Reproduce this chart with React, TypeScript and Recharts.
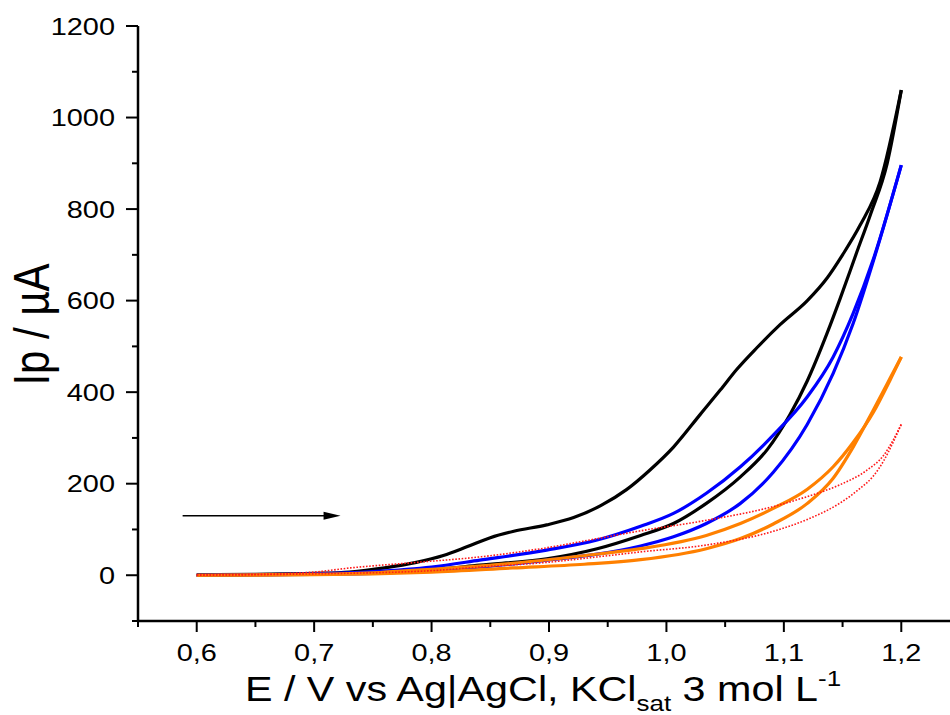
import { Line, LineChart, ReferenceLine, XAxis, YAxis } from 'recharts';

type Pt = [number, number];

// potential (V) / current (µA) pairs, each branch
const blackForward: Pt[] = [
  [0.6, 1], [0.65, 2], [0.7, 4], [0.73, 7], [0.76, 16], [0.787, 28], [0.81, 43],
  [0.83, 62], [0.85, 82], [0.87, 96], [0.898, 110], [0.921, 126], [0.944, 152],
  [0.966, 187], [0.986, 230], [1.006, 280], [1.029, 352], [1.046, 405], [1.06, 450],
  [1.077, 497], [1.097, 548], [1.12, 600], [1.137, 650], [1.15, 700], [1.165, 765],
  [1.182, 860], [1.2, 1060],
];
const blackReverse: Pt[] = [
  [0.6, 0], [0.65, 1], [0.7, 3], [0.75, 6], [0.8, 12], [0.841, 22], [0.898, 36],
  [0.941, 58], [0.978, 87], [1.006, 113], [1.034, 157], [1.063, 215], [1.086, 275],
  [1.105, 350], [1.12, 425], [1.137, 530], [1.148, 605], [1.162, 705], [1.174, 790],
  [1.188, 900], [1.2, 1060],
];
const blueForward: Pt[] = [
  [0.6, 0], [0.65, 1], [0.7, 3], [0.75, 8], [0.8, 18], [0.841, 33], [0.898, 55],
  [0.941, 77], [0.978, 107], [1.006, 135], [1.034, 179], [1.063, 237], [1.091, 306],
  [1.12, 390], [1.142, 477], [1.159, 572], [1.176, 689], [1.2, 896],
];
const blueReverse: Pt[] = [
  [0.6, 0], [0.65, 1], [0.7, 2], [0.75, 4], [0.8, 10], [0.85, 20], [0.898, 33],
  [0.941, 46], [0.978, 64], [1.006, 84], [1.034, 113], [1.063, 157], [1.091, 225],
  [1.12, 330], [1.142, 441], [1.159, 550], [1.179, 710], [1.2, 896],
];
const orangeForward: Pt[] = [
  [0.6, 0], [0.65, 1], [0.7, 2], [0.756, 6], [0.8, 13], [0.869, 26], [0.927, 42],
  [0.978, 58], [1.034, 87], [1.063, 113], [1.091, 146], [1.12, 188], [1.142, 237],
  [1.159, 290], [1.176, 355], [1.19, 424], [1.2, 477],
];
const orangeReverse: Pt[] = [
  [0.6, 0], [0.65, 0], [0.7, 1], [0.75, 3], [0.8, 7], [0.869, 16], [0.93, 24],
  [0.978, 34], [1.034, 58], [1.063, 80], [1.091, 112], [1.12, 157], [1.142, 212],
  [1.159, 280], [1.176, 360], [1.19, 428], [1.2, 477],
];
const redForward: Pt[] = [
  [0.6, 1], [0.65, 2], [0.7, 7], [0.731, 16], [0.787, 28], [0.841, 40], [0.898, 60],
  [0.941, 80], [0.978, 97], [1.034, 120], [1.091, 150], [1.12, 172], [1.148, 198],
  [1.171, 230], [1.185, 262], [1.193, 295], [1.2, 330],
];
const redReverse: Pt[] = [
  [0.6, 0], [0.7, 3], [0.8, 10], [0.841, 18], [0.898, 28], [0.941, 40], [0.978, 51],
  [1.034, 66], [1.091, 96], [1.12, 122], [1.148, 158], [1.165, 190], [1.176, 216],
  [1.185, 250], [1.193, 290], [1.2, 330],
];

const xTicks = [
  0.55, 0.6, 0.65, 0.7, 0.75, 0.8, 0.85, 0.9, 0.95, 1.0, 1.05, 1.1, 1.15, 1.2, 1.25,
];
const yTicks = [-100, 0, 100, 200, 300, 400, 500, 600, 700, 800, 900, 1000, 1100, 1200];
const topTicks = [1, 2, 3, 4, 5, 6, 7, 8, 9];
const rightTicks = [1, 2, 3, 4];

// scan direction arrow, drawn in data units
const arrowStart: Pt = [0.588, 130];
const arrowEnd: Pt = [0.7225, 130];

const FONT = '"Liberation Sans", Arial, sans-serif';
const STRETCH = 1.18; // the source figure is stretched sideways
const TICK_FONT = 24.5;
const X_TICK_SIZE = 11;
const X_TICK_MARGIN = 12;
const Y_TICK_SIZE = 12;
const Y_TICK_MARGIN = 11;
const AXIS_W = 2.5;

const SERIES = [
  { name: 'black-fwd', points: blackForward, color: '#000000', width: 3.2, dash: undefined },
  { name: 'black-rev', points: blackReverse, color: '#000000', width: 3.2, dash: undefined },
  { name: 'blue-fwd', points: blueForward, color: '#0000ff', width: 3.2, dash: undefined },
  { name: 'blue-rev', points: blueReverse, color: '#0000ff', width: 3.2, dash: undefined },
  { name: 'orange-fwd', points: orangeForward, color: '#ff8000', width: 3.2, dash: undefined },
  { name: 'orange-rev', points: orangeReverse, color: '#ff8000', width: 3.2, dash: undefined },
  { name: 'red-fwd', points: redForward, color: '#ff1a1a', width: 1.6, dash: '1.6 1.6' },
  { name: 'red-rev', points: redReverse, color: '#ff1a1a', width: 1.6, dash: '1.6 1.6' },
];

const toRows = (pts: Pt[]) => pts.map(([v, i]) => ({ v, i }));

const fmtX = (v: number) => v.toFixed(1).replace('.', ',');

const XTick = (props: any) => {
  const { x, y, payload } = props;
  const axisY = y - X_TICK_SIZE - X_TICK_MARGIN;
  const major = Math.round(payload.value * 100) % 10 === 0;
  return (
    <g>
      <line x1={x} x2={x} y1={axisY} y2={axisY + (major ? 11 : 6)} stroke="#000" strokeWidth={2} />
      {major && (
        <text
          transform={`translate(${x},${y}) scale(${STRETCH},1)`}
          textAnchor="middle"
          dy="0.71em"
          fontSize={TICK_FONT}
          fontFamily={FONT}
          fill="#000"
        >
          {fmtX(payload.value)}
        </text>
      )}
    </g>
  );
};

const YTick = (props: any) => {
  const { x, y, payload } = props;
  const axisX = x + Y_TICK_SIZE + Y_TICK_MARGIN;
  const major = payload.value % 200 === 0;
  return (
    <g>
      <line x1={axisX - (major ? 12 : 6)} x2={axisX} y1={y} y2={y} stroke="#000" strokeWidth={2} />
      {major && (
        <text
          transform={`translate(${x},${y}) scale(${STRETCH},1)`}
          textAnchor="end"
          dy="0.355em"
          fontSize={TICK_FONT}
          fontFamily={FONT}
          fill="#000"
        >
          {payload.value}
        </text>
      )}
    </g>
  );
};

// inward ticks of the frame's top and right edges, no labels
const TopTick = (props: any) => {
  const { x, y, payload } = props;
  const major = payload.value % 2 === 0;
  return <line x1={x} x2={x} y1={y} y2={y + (major ? 11 : 6)} stroke="#000" strokeWidth={2} />;
};

const RightTick = (props: any) => {
  const { x, y } = props;
  return <line x1={x - 12} x2={x} y1={y} y2={y} stroke="#000" strokeWidth={2} />;
};

const Arrow = (props: any) => {
  const { x1, y1, x2, y2 } = props;
  return (
    <g>
      <line x1={x1} y1={y1} x2={x2 - 12} y2={y2} stroke="#000" strokeWidth={1.4} />
      <polygon points={`${x2},${y2} ${x2 - 17},${y2 - 4} ${x2 - 17},${y2 + 4}`} fill="#000" />
    </g>
  );
};

const XLabel = (props: any) => {
  const vb = props.viewBox || { x: 138, y: 621, width: 822, height: 94 };
  const cx = vb.x + vb.width / 2 - 6;
  const by = vb.y + 80;
  return (
    <text
      transform={`translate(${cx},${by}) scale(${STRETCH},1)`}
      textAnchor="middle"
      fontSize={35}
      fontFamily={FONT}
      fill="#000"
    >
      E / V vs Ag|AgCl, KCl
      <tspan fontSize={22} dy={10}>sat</tspan>
      <tspan dy={-10}> 3 mol L</tspan>
      <tspan fontSize={22} dy={-15}>-1</tspan>
    </text>
  );
};

const YLabel = (props: any) => {
  const vb = props.viewBox || { x: 0, y: 26, width: 138, height: 595 };
  const cy = vb.y + vb.height / 2 + 1;
  return (
    <text
      transform={`translate(31,${cy}) rotate(-90) scale(1,${STRETCH})`}
      textAnchor="middle"
      dy="0.36em"
      fontSize={42}
      fontFamily={FONT}
      fill="#000"
    >
      Ip / µA
    </text>
  );
};

export default function App() {
  return (
    <div
      style={{
        position: 'fixed',
        left: 0,
        top: 0,
        width: 950,
        height: 715,
        overflow: 'hidden',
        background: '#fff',
        fontFamily: FONT,
      }}
    >
      <LineChart width={1000} height={715} margin={{ top: 26, right: 40, bottom: 0, left: 0 }}>
        <XAxis
          dataKey="v"
          type="number"
          domain={[0.55, 1.25]}
          ticks={xTicks}
          allowDataOverflow
          height={94}
          tickSize={X_TICK_SIZE}
          tickMargin={X_TICK_MARGIN}
          tickLine={false}
          tick={XTick}
          axisLine={{ stroke: '#000', strokeWidth: AXIS_W }}
          label={{ content: XLabel }}
        />
        <XAxis
          xAxisId="top"
          orientation="top"
          type="number"
          domain={[0, 10]}
          ticks={topTicks}
          height={0}
          tickSize={0}
          tickMargin={0}
          tickLine={false}
          tick={TopTick}
          axisLine={{ stroke: '#000', strokeWidth: AXIS_W }}
        />
        <YAxis
          type="number"
          domain={[-100, 1200]}
          ticks={yTicks}
          allowDataOverflow
          width={138}
          tickSize={Y_TICK_SIZE}
          tickMargin={Y_TICK_MARGIN}
          tickLine={false}
          tick={YTick}
          axisLine={{ stroke: '#000', strokeWidth: AXIS_W }}
          label={{ content: YLabel }}
        />
        <YAxis
          yAxisId="right"
          orientation="right"
          type="number"
          domain={[0, 5]}
          ticks={rightTicks}
          width={0}
          tickSize={0}
          tickMargin={0}
          tickLine={false}
          tick={RightTick}
          axisLine={{ stroke: '#000', strokeWidth: AXIS_W }}
        />
        {SERIES.map((s) => (
          <Line
            key={s.name}
            name={s.name}
            data={toRows(s.points)}
            dataKey="i"
            type="monotone"
            stroke={s.color}
            strokeWidth={s.width}
            strokeDasharray={s.dash}
            dot={false}
            activeDot={false}
            isAnimationActive={false}
          />
        ))}
        <ReferenceLine
          segment={[
            { x: arrowStart[0], y: arrowStart[1] },
            { x: arrowEnd[0], y: arrowEnd[1] },
          ]}
          shape={Arrow}
        />
      </LineChart>
    </div>
  );
}
